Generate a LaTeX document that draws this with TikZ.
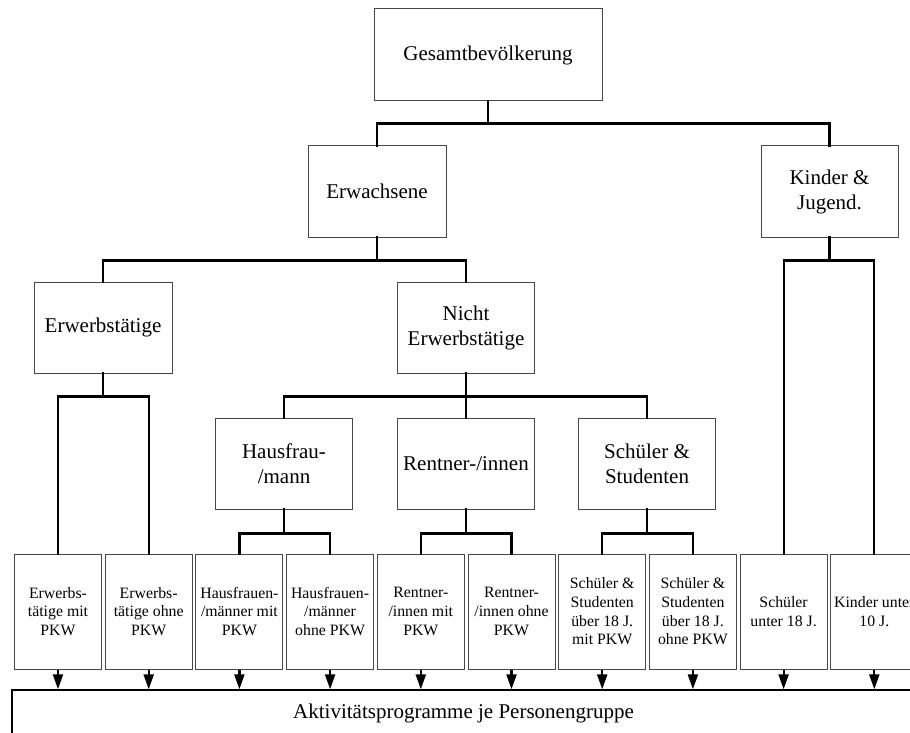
\documentclass[tikz,border=0pt]{standalone}
\usepackage{fontspec}
\setmainfont{Liberation Serif}
\usetikzlibrary{arrows.meta}

\tikzset{
  catbox/.style={draw=black!72, line width=1pt, fill=white, align=center,
    inner sep=0pt, minimum width=137pt, minimum height=91pt,
    font=\fontsize{21}{25}\selectfont},
  leafbox/.style={draw=black!72, line width=1pt, fill=white, align=center,
    inner sep=0pt, minimum width=87pt, minimum height=115pt,
    font=\fontsize{15.8}{18.6}\selectfont},
  conn/.style={line width=2.2pt, line cap=rect, line join=miter},
  feed/.style={line width=2.2pt, -{Triangle[length=15pt,width=10pt]}},
}

\begin{document}
\begin{tikzpicture}[x=1pt, y=-1pt]
\useasboundingbox (0,0) rectangle (910,733);
\clip (0,0) rectangle (910,733);

% hierarchy of population groups
\node[catbox, minimum width=228pt, minimum height=92pt] (ges) at (488,55) {Gesamtbevölkerung};
\node[catbox, minimum width=138pt] (erw) at (377,191.5) {Erwachsene};
\node[catbox] (kin) at (829.5,191.5) {Kinder \&\\Jugend.};
\node[catbox, minimum width=138pt] (ewt) at (103,327.5) {Erwerbstätige};
\node[catbox] (new) at (466,327.5) {Nicht\\Erwerbstätige};
\node[catbox] (hau) at (284,463.5) {Hausfrau-\\/mann};
\node[catbox] (ren) at (466,463.5) {Rentner-/innen};
\node[catbox] (sch) at (647,463.5) {Schüler \&\\Studenten};

% person groups
\node[leafbox] (l1)  at (58.0,611.5)  {Erwerbs-\\tätige mit\\PKW};
\node[leafbox] (l2)  at (148.7,611.5) {Erwerbs-\\tätige ohne\\PKW};
\node[leafbox] (l3)  at (239.4,611.5) {Hausfrauen-\\/männer mit\\PKW};
\node[leafbox] (l4)  at (330.1,611.5) {Hausfrauen-\\/männer\\ohne PKW};
\node[leafbox] (l5)  at (420.8,611.5) {Rentner-\\/innen mit\\PKW};
\node[leafbox] (l6)  at (511.5,611.5) {Rentner-\\/innen ohne\\PKW};
\node[leafbox] (l7)  at (602.2,611.5) {Schüler \&\\Studenten\\über 18 J.\\mit PKW};
\node[leafbox] (l8)  at (692.9,611.5) {Schüler \&\\Studenten\\über 18 J.\\ohne PKW};
\node[leafbox] (l9)  at (783.6,611.5) {Schüler\\unter 18 J.};
\node[leafbox] (l10) at (874.3,611.5) {Kinder unter\\10 J.};

% activity programmes
\node[draw=black, line width=1.4pt, minimum width=903pt, minimum height=46pt,
      inner sep=0pt, font=\fontsize{21}{25}\selectfont] (akt) at (463.5,713)
      {Aktivitätsprogramme je Personengruppe};

% branching points
\coordinate (j1) at ([yshift=-22pt]ges.south);
\coordinate (j2) at ([yshift=-23pt]erw.south);
\coordinate (j3) at ([yshift=-23pt]kin.south);
\coordinate (j4) at ([yshift=-23pt]ewt.south);
\coordinate (j5) at ([yshift=-23pt]new.south);
\coordinate (j6) at ([yshift=-24pt]hau.south);
\coordinate (j7) at ([yshift=-24pt]ren.south);
\coordinate (j8) at ([yshift=-24pt]sch.south);

% tree connectors
\draw[conn] (ges.south) -- (j1);
\draw[conn] (erw.north) |- (j1) -| (kin.north);
\draw[conn] (erw.south) -- (j2);
\draw[conn] (ewt.north) |- (j2) -| (new.north);
\draw[conn] (kin.south) -- (j3);
\draw[conn] (l9.north) |- (j3) -| (l10.north);
\draw[conn] (ewt.south) -- (j4);
\draw[conn] (l1.north) |- (j4) -| (l2.north);
\draw[conn] (new.south) -- (j5);
\draw[conn] (hau.north) |- (j5) -| (sch.north);
\draw[conn] (j5) -- (ren.north);
\draw[conn] (hau.south) -- (j6);
\draw[conn] (l3.north) |- (j6) -| (l4.north);
\draw[conn] (ren.south) -- (j7);
\draw[conn] (l5.north) |- (j7) -| (l6.north);
\draw[conn] (sch.south) -- (j8);
\draw[conn] (l7.north) |- (j8) -| (l8.north);

% arrows into the activity programmes
\foreach \n in {l1,l2,l3,l4,l5,l6,l7,l8,l9,l10}
  \draw[feed] (\n.south) -- (\n.south |- akt.north);
\end{tikzpicture}
\end{document}
